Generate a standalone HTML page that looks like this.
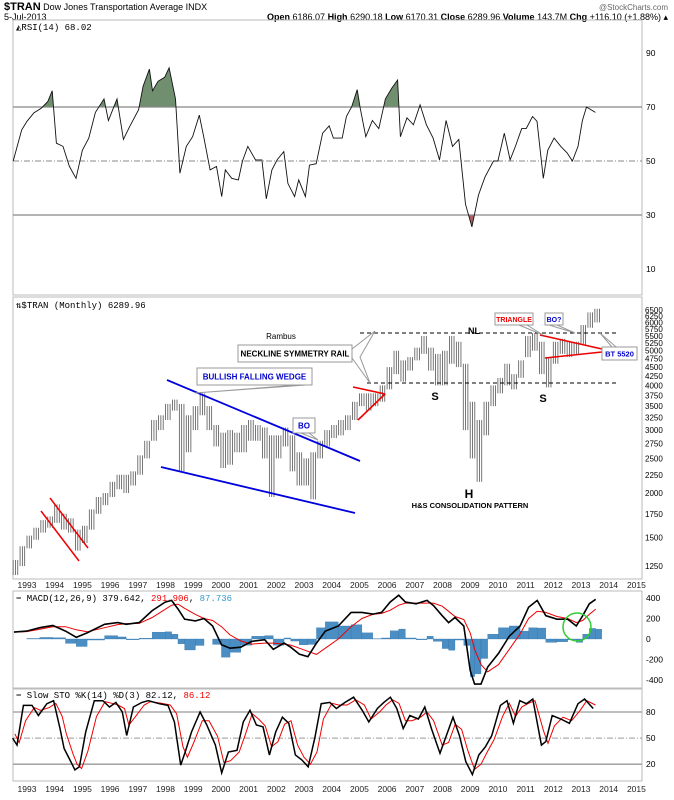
<!DOCTYPE html>
<html><head><meta charset="utf-8"><style>
body{margin:0;background:#fff;}
svg{display:block;font-family:"Liberation Sans",sans-serif;}
</style></head><body>
<svg id="c" width="674" height="800" viewBox="0 0 674 800">
<rect x="0" y="0" width="674" height="800" fill="#fff"/>
<g font-size="9">
<text x="4" y="10"><tspan font-weight="bold" font-size="11">$TRAN</tspan> Dow Jones Transportation Average INDX</text>
<text x="668" y="10" text-anchor="end" fill="#666" font-size="8">@StockCharts.com</text>
<text x="4" y="20">5-Jul-2013</text>
<text x="668" y="20" text-anchor="end"><tspan font-weight="bold">Open</tspan> 6186.07 <tspan font-weight="bold">High</tspan> 6290.18 <tspan font-weight="bold">Low</tspan> 6170.31 <tspan font-weight="bold">Close</tspan> 6289.96 <tspan font-weight="bold">Volume</tspan> 143.7M <tspan font-weight="bold">Chg</tspan> +116.10 (+1.88%) ▴</text>
</g>
<g id="frames"></g>
<g id="rsi"></g><g id="price"></g><g id="macd"></g><g id="sto"></g><g id="ann"></g>
</svg>
<script>
// ---- data ----
const priceDates=[1992.5,1992.75,1993,1993.25,1993.5,1993.75,1994,1994.25,1994.5,1994.75,1995,1995.25,1995.5,1995.75,1996,1996.25,1996.5,1996.75,1997,1997.25,1997.5,1997.75,1998,1998.25,1998.5,1998.75,1999,1999.25,1999.5,1999.75,2000,2000.25,2000.5,2000.75,2001,2001.25,2001.5,2001.75,2002,2002.25,2002.5,2002.75,2003,2003.25,2003.5,2003.75,2004,2004.25,2004.5,2004.75,2005,2005.25,2005.5,2005.75,2006,2006.25,2006.5,2006.75,2007,2007.25,2007.5,2007.75,2008,2008.25,2008.5,2008.75,2009,2009.25,2009.5,2009.75,2010,2010.25,2010.5,2010.75,2011,2011.25,2011.5,2011.75,2012,2012.25,2012.5,2012.75,2013,2013.25,2013.5];
const priceHigh=[1300,1420,1520,1600,1680,1720,1860,1750,1700,1580,1620,1800,1950,2000,2150,2250,2250,2300,2550,2800,3200,3300,3550,3650,3550,3300,3500,3800,3500,3100,2950,3000,2950,3100,3200,3100,3050,2900,2900,3050,2900,2600,2500,2600,2800,3000,3100,3200,3300,3600,3800,3800,3800,4000,4500,5000,4700,4800,5100,5500,5100,4900,5000,5500,5300,4600,3600,3200,3600,4000,4200,4600,4300,4700,5500,5600,5300,4800,5300,5400,5300,5300,5900,6400,6550];
const priceLow=[1180,1250,1400,1480,1550,1600,1650,1580,1550,1380,1450,1580,1750,1850,1950,2050,2000,2100,2250,2500,2800,3000,3200,3400,2300,2600,3000,3300,3000,2700,2350,2400,2600,2600,2800,2800,2500,1950,2500,2700,2300,2100,2100,1920,2500,2700,2850,2900,3000,3200,3500,3400,3500,3600,3900,4300,4100,4400,4700,4900,4400,4000,4000,4600,4500,3000,2500,2150,2900,3500,3800,4000,3900,4200,4800,5000,4300,3950,4600,4900,4800,4900,5200,5800,6000];
const priceTicks=[6500,6250,6000,5750,5500,5250,5000,4750,4500,4250,4000,3750,3500,3250,3000,2750,2500,2250,2000,1750,1500,1250];
const years=[1993,1994,1995,1996,1997,1998,1999,2000,2001,2002,2003,2004,2005,2006,2007,2008,2009,2010,2011,2012,2013,2014,2015];
const rsiDates=[1992.5,1992.81,1993.0,1993.25,1993.52,1993.75,1993.91,1994.06,1994.3,1994.53,1994.77,1995.0,1995.23,1995.47,1995.78,1995.94,1996.25,1996.48,1996.72,1997.03,1997.19,1997.42,1997.53,1997.73,1997.97,1998.13,1998.36,1998.52,1998.75,1998.98,1999.22,1999.38,1999.61,1999.84,2000.03,2000.16,2000.39,2000.63,2000.78,2000.97,2001.25,2001.48,2001.64,2001.84,2002.03,2002.27,2002.42,2002.66,2002.81,2003.05,2003.2,2003.44,2003.67,2003.91,2004.06,2004.38,2004.53,2004.72,2004.92,2005.03,2005.23,2005.47,2005.7,2005.94,2006.17,2006.38,2006.48,2006.72,2006.95,2007.19,2007.42,2007.66,2007.89,2008.13,2008.36,2008.59,2008.83,2009.06,2009.3,2009.53,2009.84,2010.0,2010.23,2010.44,2010.63,2010.86,2011.02,2011.25,2011.41,2011.64,2011.8,2012.03,2012.27,2012.5,2012.69,2012.89,2013.05,2013.2,2013.36,2013.52];
const rsiValues=[50,61.5,64.7,67.8,69.6,72,76,56.6,55.4,48,43.6,54,58.5,68,73,65,73,58,63,69,77.7,84,76,79.5,81,84.5,73,45.5,55.4,59,67,59,46.7,48,36.8,46.7,43.6,43,50,55.4,50.4,50.4,36,46.7,50.4,53.5,41.7,36.8,43,36.8,48.5,49,60.3,63,58.5,58.5,66.5,70,76.4,69.6,59,65,62,73,77,80,59,66,63.4,70.8,63.4,58.5,50.4,65,55.4,58,34,25.6,37.4,44,50,50,60.3,50.4,55.4,62,62,66.5,64.7,43.6,54,58.5,55.4,53,50,55.4,65,70,69,68];
const rsiTicks=[90,70,50,30,10];
const macdDates=[1992.53,1992.99,1993.46,1993.93,1994.39,1994.78,1995.17,1995.8,1996.27,1996.58,1997.05,1997.52,1997.99,1998.22,1998.45,1998.69,1999.08,1999.39,1999.7,2000.02,2000.33,2000.72,2001.11,2001.58,2001.89,2002.28,2002.52,2002.83,2003.14,2003.45,2003.77,2004.24,2004.7,2005.09,2005.48,2005.8,2006.11,2006.42,2006.66,2007.05,2007.44,2007.67,2007.99,2008.22,2008.45,2008.77,2009.0,2009.16,2009.39,2009.63,2010.02,2010.41,2010.8,2011.11,2011.42,2011.73,2012.13,2012.52,2012.83,2013.06,2013.3,2013.53];
const macdLine=[67,77,110,133,77,17,60,143,160,143,160,277,360,377,293,193,177,200,127,-57,-90,-80,-23,-7,-100,-40,-80,-147,-173,-40,77,127,260,260,243,260,360,427,360,343,377,327,227,160,210,127,-307,-440,-440,-273,-140,27,127,310,377,227,193,193,127,227,343,387];
const macdSignal=[67,72,95,120,120,90,70,110,140,150,152,210,290,330,340,300,240,200,180,120,40,-20,-50,-40,-40,-50,-60,-90,-120,-150,-90,0,120,200,240,250,280,330,350,350,350,350,320,270,220,190,60,-100,-250,-320,-250,-100,50,200,270,260,220,200,160,180,240,292];
const macdTicks=[400,200,0,-200,-400];
const stoDates=[1992.48,1992.64,1992.87,1993.18,1993.41,1993.72,1993.96,1994.19,1994.34,1994.58,1994.73,1994.89,1995.12,1995.43,1995.74,1995.98,1996.21,1996.44,1996.6,1996.84,1997.15,1997.38,1997.77,1998.09,1998.32,1998.55,1998.71,1998.94,1999.25,1999.49,1999.8,2000.03,2000.27,2000.58,2000.81,2001.05,2001.28,2001.52,2001.75,2001.98,2002.22,2002.45,2002.69,2002.92,2003.15,2003.39,2003.62,2003.93,2004.17,2004.48,2004.79,2005.1,2005.34,2005.65,2005.88,2006.12,2006.35,2006.58,2006.82,2007.13,2007.36,2007.6,2007.91,2008.14,2008.38,2008.61,2008.84,2009.08,2009.31,2009.55,2009.78,2010.09,2010.33,2010.56,2010.79,2011.03,2011.26,2011.57,2011.73,2011.96,2012.27,2012.58,2012.89,2013.13,2013.44];
const stoK=[50,42,87.6,87.6,76,89.5,93,61,38,23,13.5,17,57,93,93,85.7,91,80,53,85.7,91,93,89.5,87.6,68.6,19,34,57,80,65,42,10,34,36,68.6,82,65,63,30.6,57,74,67,30.6,25,17,50,89.5,91,84,91,97,82,68.6,84,91,97,84,61,76,72,85.7,61,32.5,53,74,53,23,8,30.6,40,53,87.6,93,67,93,89.5,95,42,46,76,72,67,89.5,95,84];
const stoD=[55,45,70,85,82,85,90,75,55,32,20,15,35,75,92,90,88,84,65,75,88,92,90,88,78,40,28,45,70,70,52,22,24,34,55,78,72,64,40,46,66,70,42,28,20,34,72,90,88,88,94,88,72,80,88,94,90,70,70,74,80,70,42,45,66,60,35,14,20,35,48,75,90,75,86,90,93,58,44,64,74,70,82,93,88];
const stoTicks=[80,50,20];

const NS='http://www.w3.org/2000/svg';
function mk(parent,tag,attrs,text){const e=document.createElementNS(NS,tag);for(const k in attrs)e.setAttribute(k,attrs[k]);if(text!==undefined)e.textContent=text;parent.appendChild(e);return e;}
const X0=13,X1=642;
function xs(t){return 27+(t-1993)*27.7;}
const P={rsi:[20,295],price:[297,579],macd:[591,688],sto:[689,781]};
const yRsi=v=>107+(70-v)*2.7;
const yPrice=p=>310+Math.log(6500/p)*155.3;
const yMacd=v=>639-v*0.1025;
const ySto=v=>712+(80-v)*0.87;
const fr=document.getElementById('frames');
for(const k in P){const r=mk(fr,'rect',{x:X0,y:P[k][0],width:X1-X0,height:P[k][1]-P[k][0],fill:'none',stroke:'#bbb','stroke-width':1});

}
[585,789].forEach(yy=>{years.forEach(yr=>{const t=mk(fr,'text',{x:xs(yr),y:yy+3,'font-size':8.5,'text-anchor':'middle',fill:'#222'},String(yr));

});});
function path(d,t,f){return d.map((v,i)=>(i?'L':'M')+xs(t[i]).toFixed(1)+','+f(v).toFixed(1)).join('');}
// RSI
const rg=document.getElementById('rsi');
mk(rg,'text',{x:16,y:30,'font-size':9,'font-family':'Liberation Mono, monospace'},'◭RSI(14) 68.02');
const ca=mk(rg,'clipPath',{id:'ca'});mk(ca,'rect',{x:0,y:0,width:674,height:yRsi(70)});
const cb=mk(rg,'clipPath',{id:'cb'});mk(cb,'rect',{x:0,y:yRsi(30),width:674,height:100});
const rp=path(rsiValues,rsiDates,yRsi);
const xe=xs(rsiDates[rsiDates.length-1]),xb=xs(rsiDates[0]);
const f1=mk(rg,'path',{d:rp+'L'+xe+','+yRsi(70)+'L'+xb+','+yRsi(70)+'Z',fill:'#6f8f6f','clip-path':'url(#ca)'});


const f2=mk(rg,'path',{d:rp+'L'+xe+','+yRsi(30)+'L'+xb+','+yRsi(30)+'Z',fill:'#b06060','clip-path':'url(#cb)'});


[70,30].forEach(v=>mk(rg,'line',{x1:X0,x2:X1,y1:yRsi(v),y2:yRsi(v),stroke:'#888','stroke-width':1.2}));
mk(rg,'line',{x1:X0,x2:X1,y1:yRsi(50),y2:yRsi(50),stroke:'#888','stroke-dasharray':'6,2,1,2'});
rsiTicks.forEach(v=>{const t=mk(rg,'text',{x:646,y:yRsi(v)+3,'font-size':8.5},String(v));

});
const rl=mk(rg,'path',{d:rp,fill:'none',stroke:'#111','stroke-width':0.9});


// Price
const pg=document.getElementById('price');
mk(pg,'text',{x:16,y:308,'font-size':9,'font-family':'Liberation Mono, monospace'},'⇅$TRAN (Monthly) 6289.96');
priceTicks.forEach(v=>{const t=mk(pg,'text',{x:645,y:yPrice(v)+3,'font-size':8},String(v));

});
priceDates.forEach((d,i)=>{for(let k=0;k<3;k++){const x=xs(d)+k*2.3;
const b=mk(pg,'line',{x1:x,x2:x,y1:yPrice(priceHigh[i]),y2:yPrice(priceLow[i]),stroke:'#555','stroke-width':0.8});

}});
// MACD
const mg=document.getElementById('macd');
mk(mg,'text',{x:16,y:601,'font-size':9,'font-family':'Liberation Mono, monospace'}).innerHTML='<tspan font-weight="bold">−</tspan> MACD(12,26,9) 379.642, <tspan fill="#e00">291.906</tspan>, <tspan fill="#39c">87.736</tspan>';
macdDates.forEach((d,i)=>{const h=macdLine[i]-macdSignal[i];const w=i<macdDates.length-1?xs(macdDates[i+1])-xs(d):6;
const b=mk(mg,'rect',{x:xs(d),y:Math.min(yMacd(0),yMacd(h)),width:w,height:Math.abs(yMacd(h)-yMacd(0)),fill:'#4a8ec4',stroke:'#2a6ea4','stroke-width':0.3});

});
const ms=mk(mg,'path',{d:path(macdSignal,macdDates,yMacd),fill:'none',stroke:'#e00','stroke-width':1});


const ml=mk(mg,'path',{d:path(macdLine,macdDates,yMacd),fill:'none',stroke:'#000','stroke-width':1.6});


macdTicks.forEach(v=>{const t=mk(mg,'text',{x:646,y:yMacd(v)+3,'font-size':8.5},String(v));

});
const gc=mk(mg,'circle',{cx:577,cy:627,r:14,fill:'none',stroke:'#3c3','stroke-width':1.5});


// STO
const sg=document.getElementById('sto');
mk(sg,'text',{x:16,y:698,'font-size':9,'font-family':'Liberation Mono, monospace'}).innerHTML='<tspan font-weight="bold">−</tspan> Slow STO %K(14) %D(3) 82.12, <tspan fill="#e00">86.12</tspan>';
[80,20].forEach(v=>mk(sg,'line',{x1:X0,x2:X1,y1:ySto(v),y2:ySto(v),stroke:'#999','stroke-width':1.3}));
mk(sg,'line',{x1:X0,x2:X1,y1:ySto(50),y2:ySto(50),stroke:'#999','stroke-dasharray':'6,2,1,2'});
stoTicks.forEach(v=>{const t=mk(sg,'text',{x:646,y:ySto(v)+3,'font-size':8.5},String(v));

});
const dl=mk(sg,'path',{d:path(stoD,stoDates.map(d=>d+0.08),ySto),fill:'none',stroke:'#e00','stroke-width':1});


const kl=mk(sg,'path',{d:path(stoK,stoDates,ySto),fill:'none',stroke:'#000','stroke-width':1.5});


// annotations
const ag=document.getElementById('ann');
function ln(x1,y1,x2,y2,c,w,name,dash){const l=mk(ag,'line',{x1,y1,x2,y2,stroke:c,'stroke-width':w});if(dash)l.setAttribute('stroke-dasharray',dash);

}
ln(50,498,88,548,'#e00',1.5,'channel-upper');
ln(41,511,79,561,'#e00',1.5,'channel-lower');
ln(167,380,360,461,'#00d',1.8,'wedge-upper');
ln(161,467,355,513,'#00d',1.8,'wedge-lower');
ln(360,333,617,333,'#000',1,'neckline-upper','4,3');
ln(367,383,617,383,'#000',1,'neckline-lower','4,3');
ln(353,387,385,394,'#e00',1.6,'triangle-2005-top');
ln(358,420,385,394,'#e00',1.6,'triangle-2005-bottom');
ln(540,335,602,349,'#e00',1.6,'triangle-2012-top');
ln(545,358,602,352,'#e00',1.6,'triangle-2012-bottom');
function box(x,y,w,h,txt,col,px,py,name,fs){const g=mk(ag,'g',{});


if(px!==null)mk(g,'polygon',{points:`${x+w-14},${y+h} ${px},${py} ${x+w-6},${y+h}`,fill:'#fff',stroke:'#999'});
mk(g,'rect',{x,y,width:w,height:h,fill:'#fff',stroke:'#999'});
mk(g,'text',{x:x+w/2,y:y+h/2+3,'text-anchor':'middle','font-size':fs||8,'font-weight':'bold',fill:col},txt);}
box(197,368,115,17,'BULLISH FALLING WEDGE','#00c',195,393,'wedge-label');
box(293,418,22,15,'BO','#00c',318,440,'bo-label');
const np=mk(ag,'polygon',{points:'352,349 375,331 360,357 370,383 352,358',fill:'#fff',stroke:'#999'});


box(238,345,114,17,'NECKLINE SYMMETRY RAIL','#000',null,null,'neckline-label');
box(495,313,38,12,'TRIANGLE','#e00',543,335,'triangle-label',7);
box(545,313,18,12,'BO?','#00c',575,333,'bo-question-label',7);
box(602,347,35,13,'BT 5520','#00c',600,333,'bt-label',7.5);
function tx(x,y,s,fs,name,w){const t=mk(ag,'text',{x,y,'font-size':fs,'text-anchor':'middle','font-weight':w||'bold'},s);

}
tx(281,339,'Rambus',8,'rambus-label','normal');
tx(474,334,'NL',9,'nl-label');
tx(435,400,'S',11,'left-shoulder-label');
tx(543,402,'S',11,'right-shoulder-label');
tx(469,498,'H',12,'head-label');
tx(470,508,'H&S CONSOLIDATION PATTERN',7.5,'hs-pattern-label');
</script>
</body></html>
